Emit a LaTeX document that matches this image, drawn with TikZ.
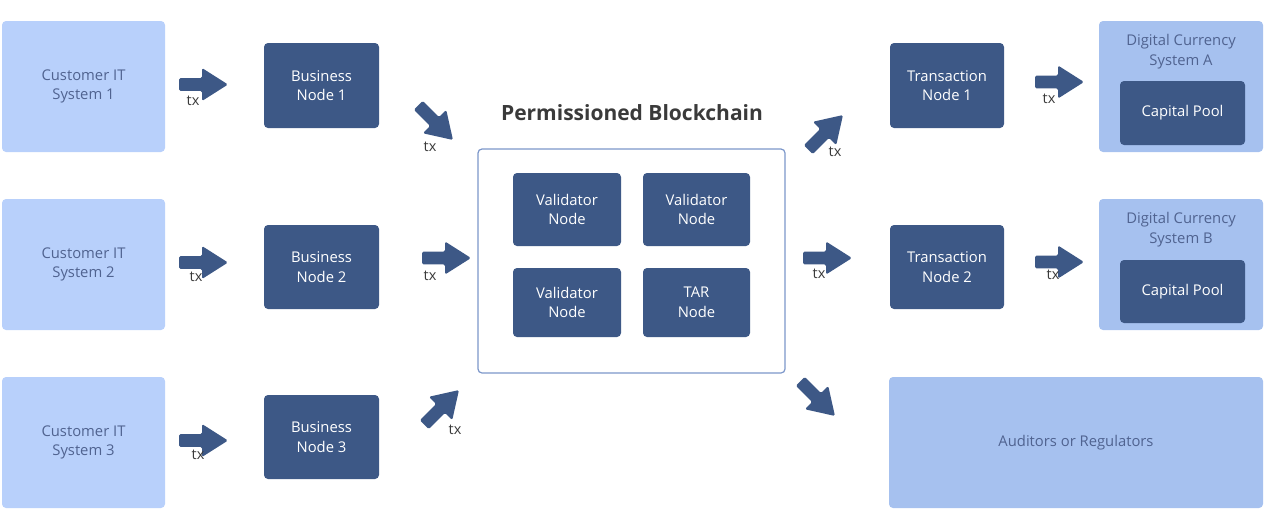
\documentclass[tikz,border=0pt]{standalone}
\usepackage{fontspec}
\setmainfont{Open Sans}
\definecolor{custc}{HTML}{B8D0FB}
\definecolor{dcsc}{HTML}{A6C1EF}
\definecolor{darkc}{HTML}{3D5886}
\definecolor{lighttext}{HTML}{506390}
\definecolor{bcline}{HTML}{7C97CA}
\definecolor{txc}{HTML}{3A3A3A}
\definecolor{titlec}{HTML}{3A3A3A}
\tikzset{
  boxfont/.style={font=\fontsize{14.8}{19.5}\selectfont},
  cust/.style={fill=custc, rounded corners=4pt, minimum width=163pt, minimum height=131pt, text=lighttext, boxfont, align=center, inner sep=0pt},
  dcs/.style={fill=dcsc, rounded corners=4pt, text=lighttext, boxfont, align=center, inner sep=0pt},
  dark/.style={fill=darkc, rounded corners=4pt, text=white, boxfont, align=center, inner sep=0pt},
  txlabel/.style={text=txc, font=\fontsize{14.5}{16}\selectfont, inner sep=0pt},
  bigarrow/.pic={\fill[darkc, rounded corners=1.5pt] (-25,-6.3) -- (-2,-6.3) -- (-2,-16.5) -- (24,0) -- (-2,16.5) -- (-2,6.3) -- (-25,6.3) -- cycle;}
}
\begin{document}
\begin{tikzpicture}[x=1pt,y=-1pt]
\useasboundingbox (0,0) rectangle (1268,531);
% customer systems
\node[cust] (c1) at (83.5,86.5) {Customer IT\\System 1};
\node[cust] (c2) at (83.5,264.5) {Customer IT\\System 2};
\node[cust] (c3) at (83.5,442.5) {Customer IT\\System 3};
% business nodes
\node[dark, minimum width=115pt, minimum height=85pt] (b1) at (321.5,85.5) {Business\\Node 1};
\node[dark, minimum width=115pt, minimum height=84pt] (b2) at (321.5,267) {Business\\Node 2};
\node[dark, minimum width=115pt, minimum height=84pt] (b3) at (321.5,437) {Business\\Node 3};
% blockchain
\node[draw=bcline, line width=1.2pt, fill=white, rounded corners=4pt, minimum width=307pt, minimum height=224pt, inner sep=0pt] (bc) at (631.5,261) {};
\node[text=titlec, font=\bfseries\fontsize{21}{24}\selectfont, inner sep=0pt] (bct) at (632,113) {Permissioned Blockchain};
\node[dark, minimum width=108pt, minimum height=73pt] (v1) at (567,209.5) {Validator\\Node};
\node[dark, minimum width=107pt, minimum height=73pt] (v2) at (696.5,209.5) {Validator\\Node};
\node[dark, minimum width=108pt, minimum height=69pt] (v3) at (567,302.5) {Validator\\Node};
\node[dark, minimum width=107pt, minimum height=69pt] (tar) at (696.5,302.5) {TAR\\Node};
% transaction nodes
\node[dark, minimum width=114pt, minimum height=85pt] (t1) at (947,85.5) {Transaction\\Node 1};
\node[dark, minimum width=114pt, minimum height=84pt] (t2) at (947,267) {Transaction\\Node 2};
% digital currency systems
\node[dcs, minimum width=164pt, minimum height=131pt] (da) at (1181,86.5) {};
\node[text=lighttext, font=\fontsize{14.8}{20}\selectfont, align=center, inner sep=0pt] (dat) at (1181,51.5) {Digital Currency\\System A};
\node[dark, minimum width=125pt, minimum height=64pt] (pa) at (1182.5,113) {Capital Pool};
\node[dcs, minimum width=164pt, minimum height=131pt] (db) at (1181,264.5) {};
\node[text=lighttext, font=\fontsize{14.8}{20}\selectfont, align=center, inner sep=0pt] (dbt) at (1181,229.5) {Digital Currency\\System B};
\node[dark, minimum width=125pt, minimum height=63pt] (pb) at (1182.5,291.5) {Capital Pool};
% auditors
\node[dcs, minimum width=374pt, minimum height=131pt] (aud) at (1076,442.5) {Auditors or Regulators};
% arrows
\pic at (204,84.5) {bigarrow};
\pic at (204,262.5) {bigarrow};
\pic at (204,440.5) {bigarrow};
\pic[rotate=-45] at (436,123) {bigarrow};
\pic at (447,258) {bigarrow};
\pic[rotate=45] at (442,407) {bigarrow};
\pic[rotate=45] at (826,132) {bigarrow};
\pic at (828,258) {bigarrow};
\pic[rotate=-45] at (818,399) {bigarrow};
\pic at (1060,82) {bigarrow};
\pic at (1060,262) {bigarrow};
% tx labels
\node[txlabel] (x1) at (193,101) {tx};
\node[txlabel] (x2) at (196,277) {tx};
\node[txlabel] (x3) at (198,455) {tx};
\node[txlabel] (x4) at (430,147) {tx};
\node[txlabel] (x5) at (430,276) {tx};
\node[txlabel] (x6) at (455,430) {tx};
\node[txlabel] (x7) at (835,152) {tx};
\node[txlabel] (x8) at (819,274) {tx};
\node[txlabel] (x9) at (1049,99) {tx};
\node[txlabel] (x10) at (1053,275) {tx};
\end{tikzpicture}
\end{document}
